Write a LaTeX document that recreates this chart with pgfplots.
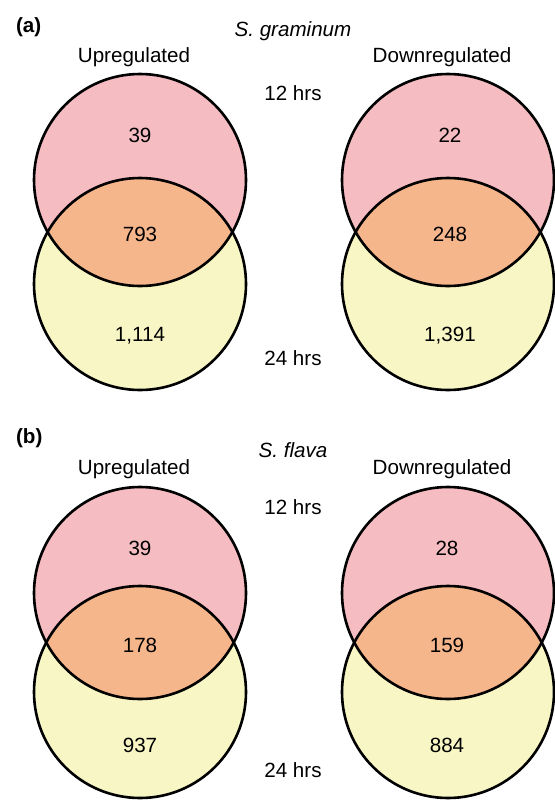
\documentclass[border=0pt]{standalone}
\usepackage{pgfplots}
\usepackage{pgfplotstable}
\pgfplotsset{compat=1.18}
\usepackage{fontspec}
\setmainfont{Liberation Sans}
\definecolor{upc}{RGB}{245,188,193}
\definecolor{lowc}{RGB}{248,246,196}
\definecolor{lensc}{RGB}{246,182,140}

% gene counts: x, baseline y (pixel grid, y downwards), label
\pgfplotstableread{
x   y   lab
140 142 39
450 142 22
140 241 793
450 241 248
140 341 {1,114}
450 341 {1,391}
140 555 39
447 555 28
140 652 178
447 652 159
140 752 937
447 752 884
}\counts

% overlap of a 12 hrs circle with the 24 hrs circle below it,
% placed at the 12 hrs centre; #2 = distance between the centres
\newcommand{\lensmark}[2]{%
  \pgfdeclareplotmark{#1}{%
    \pgfscope
    \pgfsetfillcolor{lensc}%
    \pgfpathcircle{\pgfpoint{0pt}{-#2}}{53pt}\pgfusepath{clip}%
    \pgfpathcircle{\pgfpointorigin}{53pt}\pgfusepath{fill}%
    \endpgfscope}}
\lensmark{lensA}{52pt}
\lensmark{lensB}{49.5pt}

\begin{document}
\begin{tikzpicture}[font=\fontsize{10.3}{12}\selectfont]
\begin{axis}[
    x=0.5pt, y=0.5pt,
    xmin=0, xmax=555, ymin=0, ymax=800,
    y dir=reverse,
    hide axis, clip=false,
    anchor=south west, at={(0,0)},
]
% 12 hrs circles
\addplot[only marks, mark=*, mark size=53pt, mark options={draw=none, fill=upc}]
  coordinates {(140,180) (448,180) (140,593) (448,593)};
% 24 hrs circles
\addplot[only marks, mark=*, mark size=53pt, mark options={draw=none, fill=lowc}]
  coordinates {(140,284) (448,284) (140,692) (448,692)};
% overlaps
\addplot[only marks, mark=lensA] coordinates {(140,180) (448,180)};
\addplot[only marks, mark=lensB] coordinates {(140,593) (448,593)};
% outlines
\addplot[only marks, mark=o, mark size=53pt, line width=1.3pt,
         mark options={draw=black, fill=none}]
  coordinates {(140,180) (448,180) (140,593) (448,593)
               (140,284) (448,284) (140,692) (448,692)};
% counts
\addplot[draw=none, mark=none, nodes near coords, point meta=explicit symbolic,
         every node near coord/.append style={anchor=base, inner sep=0pt, text=black}]
  table[meta=lab] {\counts};

% labels
\node[anchor=base west, font=\fontsize{10.3}{12}\selectfont\bfseries] at (axis cs:9,32) {(a)};
\node[anchor=base, font=\fontsize{10.3}{12}\selectfont\itshape] at (axis cs:293,36) {S. graminum};
\node[anchor=base] at (axis cs:134,62) {Upregulated};
\node[anchor=base] at (axis cs:442,62) {Downregulated};
\node[anchor=base] at (axis cs:293,100) {12 hrs};
\node[anchor=base] at (axis cs:293,365) {24 hrs};

\node[anchor=base west, font=\fontsize{10.3}{12}\selectfont\bfseries] at (axis cs:9,443) {(b)};
\node[anchor=base, font=\fontsize{10.3}{12}\selectfont\itshape] at (axis cs:293,457) {S. flava};
\node[anchor=base] at (axis cs:134,474) {Upregulated};
\node[anchor=base] at (axis cs:442,474) {Downregulated};
\node[anchor=base] at (axis cs:293,514) {12 hrs};
\node[anchor=base] at (axis cs:293,777) {24 hrs};
\end{axis}
\pgfresetboundingbox
\path[use as bounding box] (0,0) rectangle (277.5pt,400pt);
\end{tikzpicture}
\end{document}
